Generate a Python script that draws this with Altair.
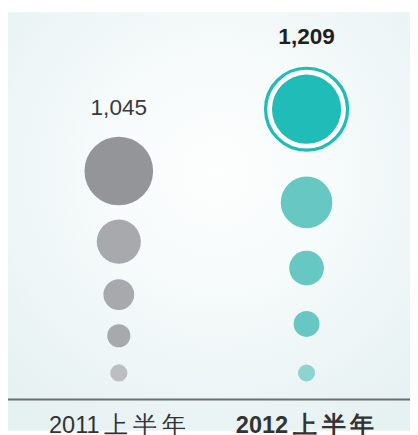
import altair as alt
import pandas as pd

# ---- data ----
periods = ["2011上半年", "2012上半年"]
totals = ["1,045", "1,209"]
total_heights = [297, 370]          # label height above the baseline

left_heights = [233, 161, 107, 65, 27]
left_diams = [70, 45, 31.4, 23.6, 17.6]
left_colors = ["#939598", "#a7a9ac", "#a7a9ac", "#a7a9ac", "#bcbec0"]

right_heights = [296, 201, 134, 77, 27]
right_diams = [70.6, 52.6, 35.4, 26.4, 17.4]
right_colors = ["#1fbcb8", "#66c7c3", "#66c7c3", "#66c7c3", "#8fd3d1"]

ring_diam = 83.6

# ---- tables ----
dots = pd.DataFrame({
    "period": [periods[0]] * 5 + [periods[1]] * 5,
    "h": left_heights + right_heights,
    "d": left_diams + right_diams,
    "color": left_colors + right_colors,
})
ring = pd.DataFrame({"period": [periods[1]], "h": [right_heights[0]], "d": [ring_diam]})
labels = pd.DataFrame({"period": periods, "h": total_heights, "text": totals})

W, H, B = 410, 395, 32
xscale = alt.Scale(type="point", domain=periods, range=[113, 304.5], padding=0)
yscale = alt.Scale(domain=[0, H])
xaxis = alt.Axis(
    title=None, ticks=False, grid=False, domain=False, labelPadding=15, zindex=1,
    labelAngle=0, labelAlign="center", labelBaseline="top",
    labelFont="Liberation Sans", labelFontSize=24, labelColor="#333333",
    labelFontWeight=alt.expr("datum.value == '2012上半年' ? 'bold' : 'normal'"),
    labelExpr="replace(replace(replace(datum.label, '上', '\u2009上'), '半', '\u2009半'), '年', '\u2009年')",
    labelOffset=-2,
)
X = alt.X("period:N", scale=xscale, axis=xaxis)
Y = alt.Y("h:Q", scale=yscale, axis=None)

bg = alt.Chart(pd.DataFrame({"a": [0]})).mark_rect(
    fill=alt.Gradient(
        gradient="radial",
        x1=0.52, y1=0.38, r1=0.0,
        x2=0.52, y2=0.38, r2=0.72,
        stops=[alt.GradientStop(offset=0, color="#fdfefe"),
               alt.GradientStop(offset=0.35, color="#f7fbfb"),
               alt.GradientStop(offset=1, color="#e6f1f2")],
    )
).encode(x=alt.value(0), x2=alt.value(W), y=alt.value(0), y2=alt.value(H + B))

baseline = alt.Chart(pd.DataFrame({"a": [0]})).mark_rule(
    color="#6d6e71", strokeWidth=2
).encode(x=alt.value(0), x2=alt.value(W), y=alt.value(H))

ring_layer = alt.Chart(ring).mark_point(
    shape="circle", filled=False, fill="white", stroke="#1fbcb8", strokeWidth=3.3, opacity=1
).transform_calculate(size="datum.d * datum.d").encode(
    x=X, y=Y, size=alt.Size("size:Q", scale=None),
)

dot_layer = alt.Chart(dots).mark_circle(opacity=1).transform_calculate(
    size="datum.d * datum.d"
).encode(
    x=X, y=Y,
    size=alt.Size("size:Q", scale=None),
    color=alt.Color("color:N", scale=None),
)

text_normal = alt.Chart(labels).transform_filter(
    alt.datum.period == periods[0]
).mark_text(font="Liberation Sans", fontSize=23, color="#3a3a3a", baseline="middle").encode(
    x=X, y=Y, text="text:N",
)
text_bold = alt.Chart(labels).transform_filter(
    alt.datum.period == periods[1]
).mark_text(font="Liberation Sans", fontSize=23, fontWeight="bold", color="#231f20", baseline="middle").encode(
    x=X, y=Y, text="text:N",
)

chart = alt.layer(bg, baseline, ring_layer, dot_layer, text_normal, text_bold).properties(
    width=W, height=H,
    autosize=alt.AutoSizeParams(type="none"),
    padding={"left": 0, "top": 0, "right": 0, "bottom": B},
    background="white",
).configure_view(stroke=None)

chart.save("out.html", embed_options={"renderer": "svg", "actions": False})
